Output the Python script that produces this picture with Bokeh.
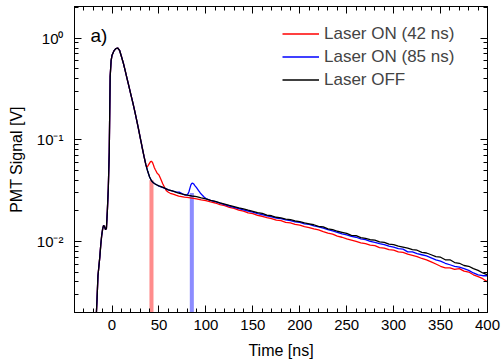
from bokeh.plotting import figure
from bokeh.models import (LinearAxis, LogAxis, Range1d, SingleIntervalTicker, LogTicker,
                          CustomJSTickFormatter, Label)
from bokeh.embed import file_html
from bokeh.resources import INLINE

FONT = "Liberation Sans"

# Shared part of the PMT trace (identical for all three measurements)
head_t = [-17, -16, -15, -14, -13, -12, -11, -10, -9, -8, -7, -6, -5, -4, -3, -2, -1, 0,
          2, 4, 6, 8, 10, 12, 14, 16, 18, 20, 22, 24, 26, 28, 30, 32, 34, 36]
head_v = [0.0017, 0.0027, 0.0046, 0.0057, 0.0071, 0.0093, 0.0115, 0.0133, 0.0144, 0.0140,
          0.0131, 0.0134, 0.020, 0.033, 0.075, 0.42, 0.60, 0.68,
          0.75, 0.79, 0.80, 0.76, 0.66, 0.57, 0.48, 0.40, 0.335, 0.28, 0.235, 0.195,
          0.160, 0.130, 0.105, 0.085, 0.069, 0.057]

tail_t = list(range(105, 401, 5))

# Laser OFF
off_t = [38, 40, 42, 44, 46, 48, 50, 55, 60, 65, 70, 75, 80, 85, 90, 95, 100] + tail_t
off_v = [0.049, 0.043, 0.0395, 0.0378, 0.0367, 0.0359, 0.0352, 0.0338, 0.0322, 0.0312,
         0.0300, 0.0292, 0.0285, 0.0280, 0.0276, 0.0268, 0.0262,
         0.0254, 0.0248, 0.0240, 0.0233, 0.0226, 0.0220, 0.0214, 0.0209, 0.0203, 0.0198,
         0.0192, 0.0189, 0.0182, 0.0179, 0.0173, 0.0171, 0.0166, 0.0164, 0.0159, 0.0157,
         0.0152, 0.0149, 0.0146, 0.0141, 0.0139, 0.0133, 0.0131, 0.0126, 0.0123, 0.0120,
         0.0115, 0.0114, 0.0109, 0.0107, 0.0104, 0.0103, 0.0099, 0.0098, 0.0094, 0.0093,
         0.0090, 0.0088, 0.0086, 0.0083, 0.0082, 0.0078, 0.0077, 0.0074, 0.0071, 0.0070,
         0.0066, 0.0066, 0.0062, 0.0061, 0.0058, 0.0057, 0.0054, 0.0052, 0.0049, 0.0047]

# Laser ON, pulse at 42 ns
on42_t = [37, 38, 39, 40, 41, 42, 43, 44, 45, 46, 47, 48, 50, 52, 54, 56, 58, 60, 62, 65,
          68, 71, 74, 77, 80, 85, 90, 95, 100] + tail_t
on42_v = [0.054, 0.055, 0.057, 0.059, 0.061, 0.0615, 0.060, 0.057, 0.0535, 0.051, 0.049,
          0.047, 0.045, 0.041, 0.037, 0.034, 0.0315, 0.0305, 0.0298, 0.0292,
          0.0285, 0.0279, 0.0276, 0.0273, 0.0271, 0.0267, 0.0263, 0.0257, 0.0252,
          0.0245, 0.0239, 0.0230, 0.0225, 0.0217, 0.0212, 0.0203, 0.0199, 0.0191, 0.0188,
          0.0181, 0.0177, 0.0172, 0.0168, 0.0162, 0.0160, 0.0154, 0.0152, 0.0147, 0.0145,
          0.0140, 0.0137, 0.0133, 0.0130, 0.0125, 0.0121, 0.0118, 0.0113, 0.0110, 0.0106,
          0.0103, 0.0100, 0.0097, 0.0095, 0.0092, 0.0091, 0.0087, 0.0086, 0.0083, 0.0082,
          0.0079, 0.0078, 0.0075, 0.0073, 0.0071, 0.0068, 0.0066, 0.0063, 0.0060, 0.0057,
          0.0055, 0.0055, 0.0053, 0.0054, 0.0051, 0.0050, 0.0047, 0.0045, 0.0043, 0.0040]

# Laser ON, pulse at 85 ns
on85_t = [38, 40, 42, 44, 46, 48, 50, 55, 60, 65, 68, 70, 72, 74, 76, 78, 80, 81, 82, 83,
          84, 85, 86, 87, 88, 90, 92, 94, 96, 98, 100] + tail_t
on85_v = [0.049, 0.043, 0.0395, 0.0378, 0.0367, 0.0359, 0.0350, 0.0336, 0.0322, 0.0313,
          0.0308, 0.0306, 0.0305, 0.0298, 0.0291, 0.0286, 0.0288, 0.0295, 0.0310, 0.0335,
          0.0360, 0.0372, 0.0374, 0.0368, 0.0357, 0.0338, 0.0318, 0.0300, 0.0286, 0.0274,
          0.0264,
          0.0254, 0.0246, 0.0238, 0.0230, 0.0223, 0.0216, 0.0211, 0.0205, 0.0199, 0.0194,
          0.0188, 0.0184, 0.0179, 0.0175, 0.0170, 0.0168, 0.0163, 0.0160, 0.0156, 0.0154,
          0.0149, 0.0147, 0.0142, 0.0139, 0.0135, 0.0131, 0.0127, 0.0123, 0.0119, 0.0116,
          0.0112, 0.0110, 0.0106, 0.0104, 0.0100, 0.0098, 0.0095, 0.0093, 0.0090, 0.0088,
          0.0085, 0.0084, 0.0079, 0.0079, 0.0076, 0.0074, 0.0072, 0.0069, 0.0066, 0.0064,
          0.0061, 0.0059, 0.0057, 0.0056, 0.0054, 0.0052, 0.0049, 0.0047, 0.0046, 0.0046]

# Laser pulse markers
pulse_t = [42, 85]
pulse_top = [0.040, 0.030]
pulse_colors = ["#ff8c8c", "#8c8cff"]

series_names = ["Laser ON (42 ns)", "Laser ON (85 ns)", "Laser OFF"]
series_colors = ["#ff0000", "#0000ff", "#000000"]

p = figure(width=502, height=362, y_axis_type="log",
           x_range=Range1d(-40, 400), y_range=Range1d(0.002, 2.05),
           output_backend="svg", toolbar_location=None,
           min_border_left=74, min_border_right=15, min_border_top=6, min_border_bottom=50)
p.xgrid.visible = False
p.ygrid.visible = False
p.outline_line_color = "black"
p.outline_line_width = 1
p.background_fill_color = "white"
p.border_fill_color = "white"

p.vbar(x=pulse_t, width=4.3, bottom=0.001, top=pulse_top, fill_color=pulse_colors,
       line_color=None)

for (t, v), name, color in zip([(head_t + on42_t, head_v + on42_v),
                                (head_t + on85_t, head_v + on85_v),
                                (head_t + off_t, head_v + off_v)],
                               series_names, series_colors):
    p.line(t, v, line_color=color, line_width=1.3, legend_label=name)

sup_code = """
const sup = {"-": "\\u207b", "0": "\\u2070", "1": "\\u00b9", "2": "\\u00b2", "3": "\\u00b3",
             "4": "\\u2074", "5": "\\u2075", "6": "\\u2076", "7": "\\u2077", "8": "\\u2078",
             "9": "\\u2079"};
const e = Math.round(Math.log10(tick));
return "10" + String(e).split("").map(c => sup[c]).join("");
"""
blank = CustomJSTickFormatter(code="return '';")


def style_axis(ax):
    ax.axis_line_color = "black"
    ax.major_tick_line_color = "black"
    ax.minor_tick_line_color = "black"
    ax.major_tick_in = 7
    ax.major_tick_out = 0
    ax.minor_tick_in = 4
    ax.minor_tick_out = 0
    ax.major_label_text_font = FONT
    ax.major_label_text_font_size = "15px"
    ax.major_label_text_color = "black"
    ax.axis_label_text_font = FONT
    ax.axis_label_text_font_size = "16px"
    ax.axis_label_text_font_style = "normal"
    ax.axis_label_text_color = "black"


xax = p.xaxis[0]
style_axis(xax)
xax.ticker = SingleIntervalTicker(interval=50, num_minor_ticks=5)
xax.axis_label = "Time [ns]"
xax.major_label_standoff = 7
xax.axis_label_standoff = 9

yax = p.yaxis[0]
style_axis(yax)
yax.ticker = LogTicker(num_minor_ticks=10)
yax.formatter = CustomJSTickFormatter(code=sup_code)
yax.axis_label = "PMT Signal [V]"
yax.major_label_standoff = 11
yax.axis_label_standoff = 9

top = LinearAxis(ticker=SingleIntervalTicker(interval=50, num_minor_ticks=5), formatter=blank)
style_axis(top)
top.major_label_standoff = 0
p.add_layout(top, "above")

right = LogAxis(ticker=LogTicker(num_minor_ticks=10), formatter=blank)
style_axis(right)
right.major_label_standoff = 0
p.add_layout(right, "right")

p.add_layout(Label(x=-23, y=1.06, text="a)", text_font=FONT, text_font_size="19px",
                   text_baseline="middle", text_color="black"))

# legend anchored by its bottom-left corner, in px from the frame's bottom-left
lg = p.legend[0]
lg.location = (208, 221)
lg.border_line_color = None
lg.background_fill_alpha = 0
lg.label_text_font = FONT
lg.label_text_font_size = "17px"
lg.glyph_width = 37
lg.glyph_height = 23
lg.label_height = 23
lg.spacing = 0
lg.padding = 0
lg.margin = 0
lg.label_standoff = 5

open("out.html", "w").write(file_html(p, INLINE))
